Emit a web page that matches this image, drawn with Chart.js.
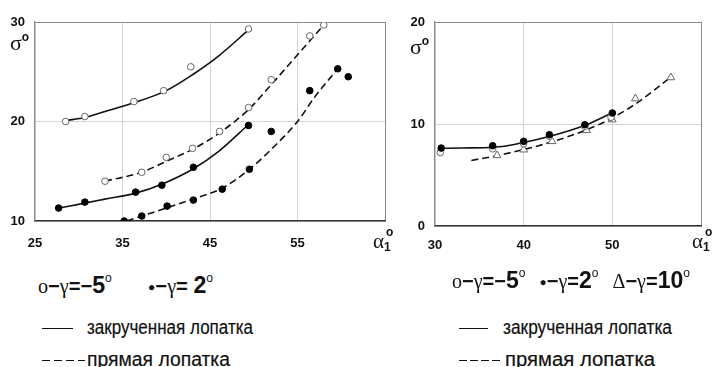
<!DOCTYPE html>
<html>
<head>
<meta charset="utf-8">
<script src="https://cdn.jsdelivr.net/npm/chart.js@4.4.1/dist/chart.umd.min.js"></script>
<style>
  body { margin: 0; background: #fff; width: 713px; height: 367px; overflow: hidden; position: relative; }
  canvas { position: absolute; top: 0; }
  .t { position: absolute; white-space: nowrap; color: #111; font-family: "Liberation Sans", Arial, sans-serif; transform-origin: 0 0; }
  .sig { font-family: "Liberation Serif", serif; font-size: 22px; }
  .sup { font-family: "Liberation Sans", sans-serif; font-weight: bold; font-size: 12px; position: relative; top: -9px; }
  .alpha { font-family: "Liberation Serif", serif; font-size: 21px; }
  .sub { font-family: "Liberation Sans", sans-serif; font-weight: bold; font-size: 12px; position: relative; top: 3px; }
  .leg { font-size: 20px; -webkit-text-stroke: 0.2px #111; }
  .gam { font-family: "Liberation Serif", serif; font-size: 20px; }
  .dot { font-family: "Liberation Sans", sans-serif; font-size: 12px; position: relative; top: -2px; }
  .b { font-family: "Liberation Sans", sans-serif; font-weight: bold; font-size: 20px; }
  .big { font-family: "Liberation Sans", sans-serif; font-weight: bold; font-size: 23px; }
  .deg { font-family: "Liberation Sans", sans-serif; font-size: 12px; position: relative; top: -11px; }
</style>
</head>
<body>
<canvas id="left" width="400" height="260" style="left:0"></canvas>
<canvas id="right" width="313" height="260" style="left:400px"></canvas>

<div class="t" style="left:10px;top:30px"><span class="sig">σ</span><span class="sup">o</span></div>
<div class="t" style="left:410px;top:34px"><span class="sig">σ</span><span class="sup">o</span></div>
<div class="t" style="left:373px;top:229px"><span class="alpha">α</span><span class="sub">1</span><span class="sup" style="position:absolute;left:13px;top:-4px">o</span></div>
<div class="t" style="left:692px;top:229px"><span class="alpha">α</span><span class="sub">1</span><span class="sup" style="position:absolute;left:13px;top:-4px">o</span></div>

<div class="t fit" data-w="175" style="left:38px;top:272px"><span class="gam">ο</span><span class="b">−</span><span class="gam">γ</span><span class="b">=−</span><span class="big">5</span><span class="deg">o</span><span style="display:inline-block;width:36px"></span><span class="dot">●</span><span class="b">−</span><span class="gam">γ</span><span class="b">= </span><span class="big">2</span><span class="deg">o</span></div>
<div class="t leg" style="left:42px;top:316px"><span style="display:inline-block;width:31px;height:1.5px;background:#111;vertical-align:middle"></span></div>
<div class="t leg fit" data-w="166" style="left:87px;top:316px">закрученная лопатка</div>
<div class="t leg" style="left:42px;top:348px"><span style="display:inline-block;width:43px;height:1.5px;background:repeating-linear-gradient(90deg,#111 0 8px,transparent 8px 12px);vertical-align:middle"></span></div>
<div class="t leg fit" data-w="143" style="left:87px;top:348px">прямая лопатка</div>

<div class="t fit" data-w="238" style="left:452px;top:267px"><span class="gam">ο</span><span class="b">−</span><span class="gam">γ</span><span class="b">=−</span><span class="big">5</span><span class="deg">o</span><span style="display:inline-block;width:14px"></span><span class="dot">●</span><span class="b">−</span><span class="gam">γ</span><span class="b">=</span><span class="big">2</span><span class="deg">o</span><span style="display:inline-block;width:14px"></span><span class="gam">Δ</span><span class="b">−</span><span class="gam">γ</span><span class="b">=</span><span class="big">10</span><span class="deg">o</span></div>
<div class="t leg" style="left:459px;top:316px"><span style="display:inline-block;width:29px;height:1.5px;background:#111;vertical-align:middle"></span></div>
<div class="t leg fit" data-w="169" style="left:503px;top:316px">закрученная лопатка</div>
<div class="t leg" style="left:459px;top:348px"><span style="display:inline-block;width:41px;height:1.5px;background:repeating-linear-gradient(90deg,#111 0 8px,transparent 8px 11px);vertical-align:middle"></span></div>
<div class="t leg fit" data-w="150" style="left:505px;top:348px">прямая лопатка</div>

<script>
// left chart: sigma vs alpha1, measured points
const leftTwistNeg5X = [28.5, 30.7, 36.3, 39.7, 42.8, 49.4];
const leftTwistNeg5Y = [20.0, 20.5, 22.0, 23.1, 25.5, 29.3];
const leftStraightNeg5X = [33.0, 37.2, 40.0, 43.0, 46.1, 49.4, 52.0, 56.4, 58.0];
const leftStraightNeg5Y = [14.0, 14.9, 16.4, 17.3, 19.0, 21.4, 24.2, 28.6, 29.7];
const leftTwistPos2X = [27.7, 30.7, 36.5, 39.5, 43.1, 49.4];
const leftTwistPos2Y = [11.3, 11.9, 12.9, 13.6, 15.4, 19.6];
const leftStraightPos2X = [35.2, 37.2, 40.1, 43.1, 46.4, 49.5, 52.0, 56.4, 59.6, 60.8];
const leftStraightPos2Y = [10.0, 10.5, 11.5, 12.1, 13.2, 15.2, 19.0, 23.1, 25.3, 24.5];

// left chart: fitted curves
const curveTwistNeg5X = [28.5, 30.7, 33, 36, 40, 43, 46, 49.4];
const curveTwistNeg5Y = [20.1, 20.4, 21.0, 21.8, 23.1, 24.7, 26.6, 29.2];
const curveStraightNeg5X = [33.0, 37.2, 40, 43, 46, 49.4, 52, 55, 58];
const curveStraightNeg5Y = [14.0, 14.9, 16.0, 17.2, 18.8, 21.2, 23.7, 26.7, 29.7];
const curveTwistPos2X = [27.7, 30.7, 33, 36.5, 39.5, 43, 46, 49.4];
const curveTwistPos2Y = [11.3, 11.8, 12.2, 12.8, 13.7, 15.2, 17.0, 19.7];
const curveStraightPos2X = [35.5, 37.2, 40, 43, 46.4, 49.5, 52, 55, 57, 59.6];
const curveStraightPos2Y = [10.0, 10.5, 11.3, 12.2, 13.3, 15.2, 17.2, 20.0, 22.5, 25.3];

// right chart points
const rightNeg5X = [30.6, 36.5, 40.0, 42.9, 46.9, 49.85];
const rightNeg5Y = [7.2, 7.57, 8.07, 8.79, 9.77, 10.66];
const rightPos2X = [30.7, 36.5, 40.0, 42.9, 46.9, 50.0];
const rightPos2Y = [7.64, 7.87, 8.3, 8.95, 9.93, 11.08];
const rightPos10X = [37.0, 40.0, 43.2, 47.1, 50.0, 52.6, 56.6];
const rightPos10Y = [6.92, 7.48, 8.3, 9.38, 10.43, 12.49, 14.56];

// right chart curves
const rightSolidX = [30.5, 33, 36, 38, 40, 43, 47, 50];
const rightSolidY = [7.6, 7.65, 7.7, 7.85, 8.2, 8.8, 9.9, 11.1];
const rightDashX = [34.1, 37, 40, 43, 47, 50, 53, 56.3];
const rightDashY = [6.43, 6.9, 7.5, 8.2, 9.4, 10.6, 12.2, 14.4];

const leftXTicks = [25, 35, 45, 55];
const rightXTicks = [30, 40, 50];

// squeeze legend lines to the widths seen in the picture (font there is condensed)
document.querySelectorAll('.fit').forEach(el => {
  const w = el.getBoundingClientRect().width;
  el.style.transform = 'scaleX(' + (Number(el.dataset.w) / w) + ')';
});

function pts(xs, ys) { return xs.map((x, i) => ({ x: x, y: ys[i] })); }

function pointSet(xs, ys, filled, style) {
  return {
    data: pts(xs, ys),
    showLine: false,
    pointStyle: style || 'circle',
    pointRadius: style === 'triangle' ? 4.5 : 3.3,
    pointBackgroundColor: filled ? '#000' : '#fff',
    pointBorderColor: filled ? '#000' : '#666',
    pointBorderWidth: 1,
    order: 0
  };
}

function curve(xs, ys, dashed) {
  return {
    data: pts(xs, ys),
    showLine: true,
    pointRadius: 0,
    borderColor: '#111',
    borderWidth: 1.6,
    borderDash: dashed ? [7, 4] : [],
    cubicInterpolationMode: 'monotone',
    fill: false,
    order: 1
  };
}

const tickFont = { family: '"Liberation Sans", Arial, sans-serif', size: 13, weight: 'bold' };

function axes(xmin, xmax, ymin, ymax, xLabels, yw, xh, xpad) {
  return {
    x: {
      type: 'linear', min: xmin, max: xmax,
      afterBuildTicks: s => { s.ticks = xLabels.concat([xmax]).map(v => ({ value: v })); },
      ticks: { color: '#111', font: tickFont, padding: xpad, maxRotation: 0,
        callback: v => xLabels.includes(v) ? String(v) : '' },
      grid: { drawTicks: false, color: c => c.tick && c.tick.value === xmax ? '#8a8a8a' : '#d4d4d4', lineWidth: 1 },
      border: { color: '#333', width: 1.5 },
      afterFit: s => { s.height = xh; }
    },
    y: {
      type: 'linear', min: ymin, max: ymax,
      ticks: { stepSize: 10, color: '#111', font: tickFont, padding: 10 },
      grid: { drawTicks: false, color: c => c.tick && c.tick.value === ymax ? '#8a8a8a' : '#d4d4d4', lineWidth: 1 },
      border: { color: '#8a8a8a', width: 1.2 },
      afterFit: s => { s.width = yw; }
    }
  };
}

const common = {
  responsive: false,
  animation: false,
  plugins: { legend: { display: false }, tooltip: { enabled: false } }
};

new Chart(document.getElementById('left'), {
  type: 'scatter',
  data: {
    datasets: [
      pointSet(leftTwistNeg5X, leftTwistNeg5Y, false),
      pointSet(leftStraightNeg5X, leftStraightNeg5Y, false),
      pointSet(leftTwistPos2X, leftTwistPos2Y, true),
      pointSet(leftStraightPos2X, leftStraightPos2Y, true),
      curve(curveTwistNeg5X, curveTwistNeg5Y, false),
      curve(curveStraightNeg5X, curveStraightNeg5Y, true),
      curve(curveTwistPos2X, curveTwistPos2Y, false),
      curve(curveStraightPos2X, curveStraightPos2Y, true)
    ]
  },
  options: Object.assign({}, common, {
    layout: { padding: { top: 22, right: 9, left: 0, bottom: 0 } },
    scales: axes(25, 65, 10, 30, leftXTicks, 35, 39, 15)
  })
});

new Chart(document.getElementById('right'), {
  type: 'scatter',
  data: {
    datasets: [
      pointSet(rightPos2X, rightPos2Y, true),
      pointSet(rightNeg5X, rightNeg5Y, false),
      pointSet(rightPos10X, rightPos10Y, false, 'triangle'),
      curve(rightSolidX, rightSolidY, false),
      curve(rightDashX, rightDashY, true)
    ]
  },
  options: Object.assign({}, common, {
    layout: { padding: { top: 22, right: 3, left: 0, bottom: 0 } },
    scales: axes(30, 60, 0, 20, rightXTicks, 35, 34, 12)
  })
});
</script>
</body>
</html>
